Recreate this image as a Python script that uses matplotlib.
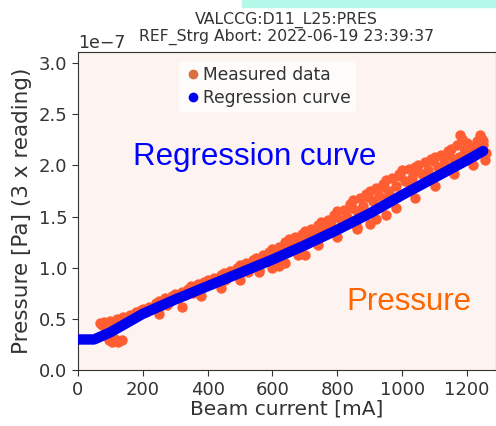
import matplotlib.pyplot as plt
from matplotlib.lines import Line2D
from matplotlib.patches import Rectangle

# Regression curve (Pressure in units of 1e-7 Pa vs beam current in mA)
curve_x = [0, 50, 100, 150, 200, 300, 400, 500, 600, 700, 800, 900, 1000, 1100, 1200, 1250]
curve_y = [0.30, 0.30, 0.37, 0.46, 0.55, 0.69, 0.82, 0.95, 1.08, 1.22, 1.37, 1.53, 1.71, 1.88, 2.05, 2.14]

meas_x = [68, 75, 82, 90, 95, 105, 115, 125, 135, 100, 110, 120, 130, 140, 150, 160, 170,
          180, 190, 200, 210, 220, 230, 240, 250, 260, 270, 280, 290, 300, 310, 320, 330,
          340, 350, 360, 370, 380, 390, 400, 410, 420, 430, 440, 450, 460, 470, 480, 490,
          500, 510, 520, 530, 540, 550, 560, 570, 580, 590, 600, 610, 620, 630, 640, 650,
          660, 670, 680, 690, 700, 710, 720, 730, 740, 750, 760, 770, 780, 790, 800, 810,
          820, 830, 840, 850, 860, 870, 880, 890, 900, 910, 920, 930, 940, 950, 960, 970,
          980, 990, 1000, 1010, 1020, 1030, 1040, 1050, 1060, 1070, 1080, 1090, 1100, 1110,
          1120, 1130, 1140, 1150, 1160, 1170, 1180, 1185, 1190, 1200, 1210, 1220, 1230, 1240,
          1245, 1250, 1255, 1260,
          250, 320, 380, 440, 500, 560, 620, 680, 740, 800, 860, 920, 980, 1040, 1100, 1160, 1220,
          145, 195, 245, 295, 345, 395, 445, 495, 545, 595, 645, 695, 745, 795, 845, 895,
          945, 995, 1045, 1095, 1145, 1195, 1235, 275, 355, 455, 525, 605, 705, 775, 875,
          955, 1025, 1075, 1135, 1175, 1215, 1250,
          560, 600, 640, 700, 860, 900, 950]
meas_y = [0.46, 0.44, 0.47, 0.43, 0.29, 0.28, 0.30, 0.28, 0.29, 0.48, 0.46, 0.50, 0.47, 0.52, 0.50, 0.54, 0.52,
          0.57, 0.55, 0.60, 0.57, 0.62, 0.60, 0.66, 0.68, 0.64, 0.70, 0.67, 0.72, 0.74, 0.70, 0.76, 0.73,
          0.79, 0.82, 0.76, 0.84, 0.80, 0.86, 0.88, 0.84, 0.90, 0.86, 0.93, 0.95, 0.90, 0.97, 0.94, 1.00,
          1.03, 0.98, 1.05, 1.01, 1.08, 1.10, 1.05, 1.12, 1.08, 1.15, 1.18, 1.12, 1.20, 1.17, 1.25, 1.28,
          1.22, 1.30, 1.26, 1.33, 1.36, 1.30, 1.38, 1.33, 1.42, 1.45, 1.38, 1.47, 1.42, 1.52, 1.55, 1.47,
          1.56, 1.50, 1.62, 1.66, 1.55, 1.68, 1.60, 1.72, 1.75, 1.65, 1.78, 1.70, 1.82, 1.86, 1.75, 1.88,
          1.80, 1.92, 1.95, 1.85, 1.96, 1.88, 1.98, 2.00, 1.92, 2.03, 1.95, 2.06, 2.08, 1.98,
          2.10, 2.02, 2.14, 2.16, 2.05, 2.20, 2.30, 2.26, 2.12, 2.22, 2.08, 2.18, 2.24, 2.30,
          2.26, 2.20, 2.05, 2.12,
          0.55, 0.62, 0.72, 0.80, 0.88, 0.98, 1.02, 1.12, 1.22, 1.30, 1.40, 1.48, 1.58, 1.68, 1.80, 1.92, 2.00,
          0.49, 0.59, 0.65, 0.71, 0.80, 0.85, 0.91, 0.99, 1.06, 1.13, 1.23, 1.31, 1.40, 1.50, 1.58, 1.69,
          1.79, 1.90, 1.94, 2.04, 2.10, 2.15, 2.20, 0.64, 0.75, 0.88, 0.96, 1.06, 1.25, 1.35, 1.58,
          1.70, 1.82, 1.90, 1.98, 2.08, 2.14, 2.24,
          0.96, 1.00, 1.05, 1.12, 1.38, 1.43, 1.52]

scale = 1e-7

fig = plt.figure(figsize=(4.96, 4.26), dpi=100)
ax = fig.add_axes([0.157, 0.131, 0.842, 0.747])
ax.set_facecolor('#fdf3f0')

ax.scatter(meas_x, [v * scale for v in meas_y], s=42, color='#ff5e33', zorder=2)
ax.plot(curve_x, [v * scale for v in curve_y], color='#0000ee', lw=7.5,
        solid_capstyle='round', zorder=3)

ax.set_xlim(0, 1288)
ax.set_ylim(0, 3.107e-7)
ax.set_xticks([0, 200, 400, 600, 800, 1000, 1200])
ax.set_yticks([0, 0.5e-7, 1.0e-7, 1.5e-7, 2.0e-7, 2.5e-7, 3.0e-7])
ax.tick_params(labelsize=13, colors='#333333', length=4)
ax.yaxis.get_offset_text().set_fontsize(12.5)
ax.yaxis.get_offset_text().set_color('#333333')
for s in ax.spines.values():
    s.set_color('#333333')

ax.set_xlabel('Beam current [mA]', fontsize=14.5, color='#333333', labelpad=1)
ax.set_ylabel('Pressure [Pa] (3 x reading)', fontsize=15.5, color='#333333', labelpad=5)
ax.set_title('VALCCG:D11_L25:PRES\nREF_Strg Abort: 2022-06-19 23:39:37',
             fontsize=11.3, color='#333333', linespacing=1.1, pad=8)

handles = [Line2D([], [], marker='o', ls='', color='#d9703f', markersize=6),
           Line2D([], [], marker='o', ls='', color='#0000ee', markersize=6)]
leg = ax.legend(handles, ['Measured data', 'Regression curve'], loc='upper center',
                bbox_to_anchor=(0.455, 1.0), fontsize=12.3, handletextpad=0.1,
                handlelength=1.0, labelspacing=0.3, framealpha=0.8, edgecolor='none',
                borderpad=0.3)
for t in leg.get_texts():
    t.set_color('#333333')

# slide annotations
fig.text(0.513, 0.631, 'Regression curve', fontsize=22.5, color='#0000ff',
         family='Liberation Sans', ha='center', va='center')
fig.text(0.825, 0.291, 'Pressure', fontsize=22.5, color='#ff6600',
         family='Liberation Sans', ha='center', va='center')
fig.patches.append(Rectangle((0.488, 0.984), 0.52, 0.02, transform=fig.transFigure,
                             color='#b4f8ea', zorder=0))

fig.savefig('out.png', dpi=100)
